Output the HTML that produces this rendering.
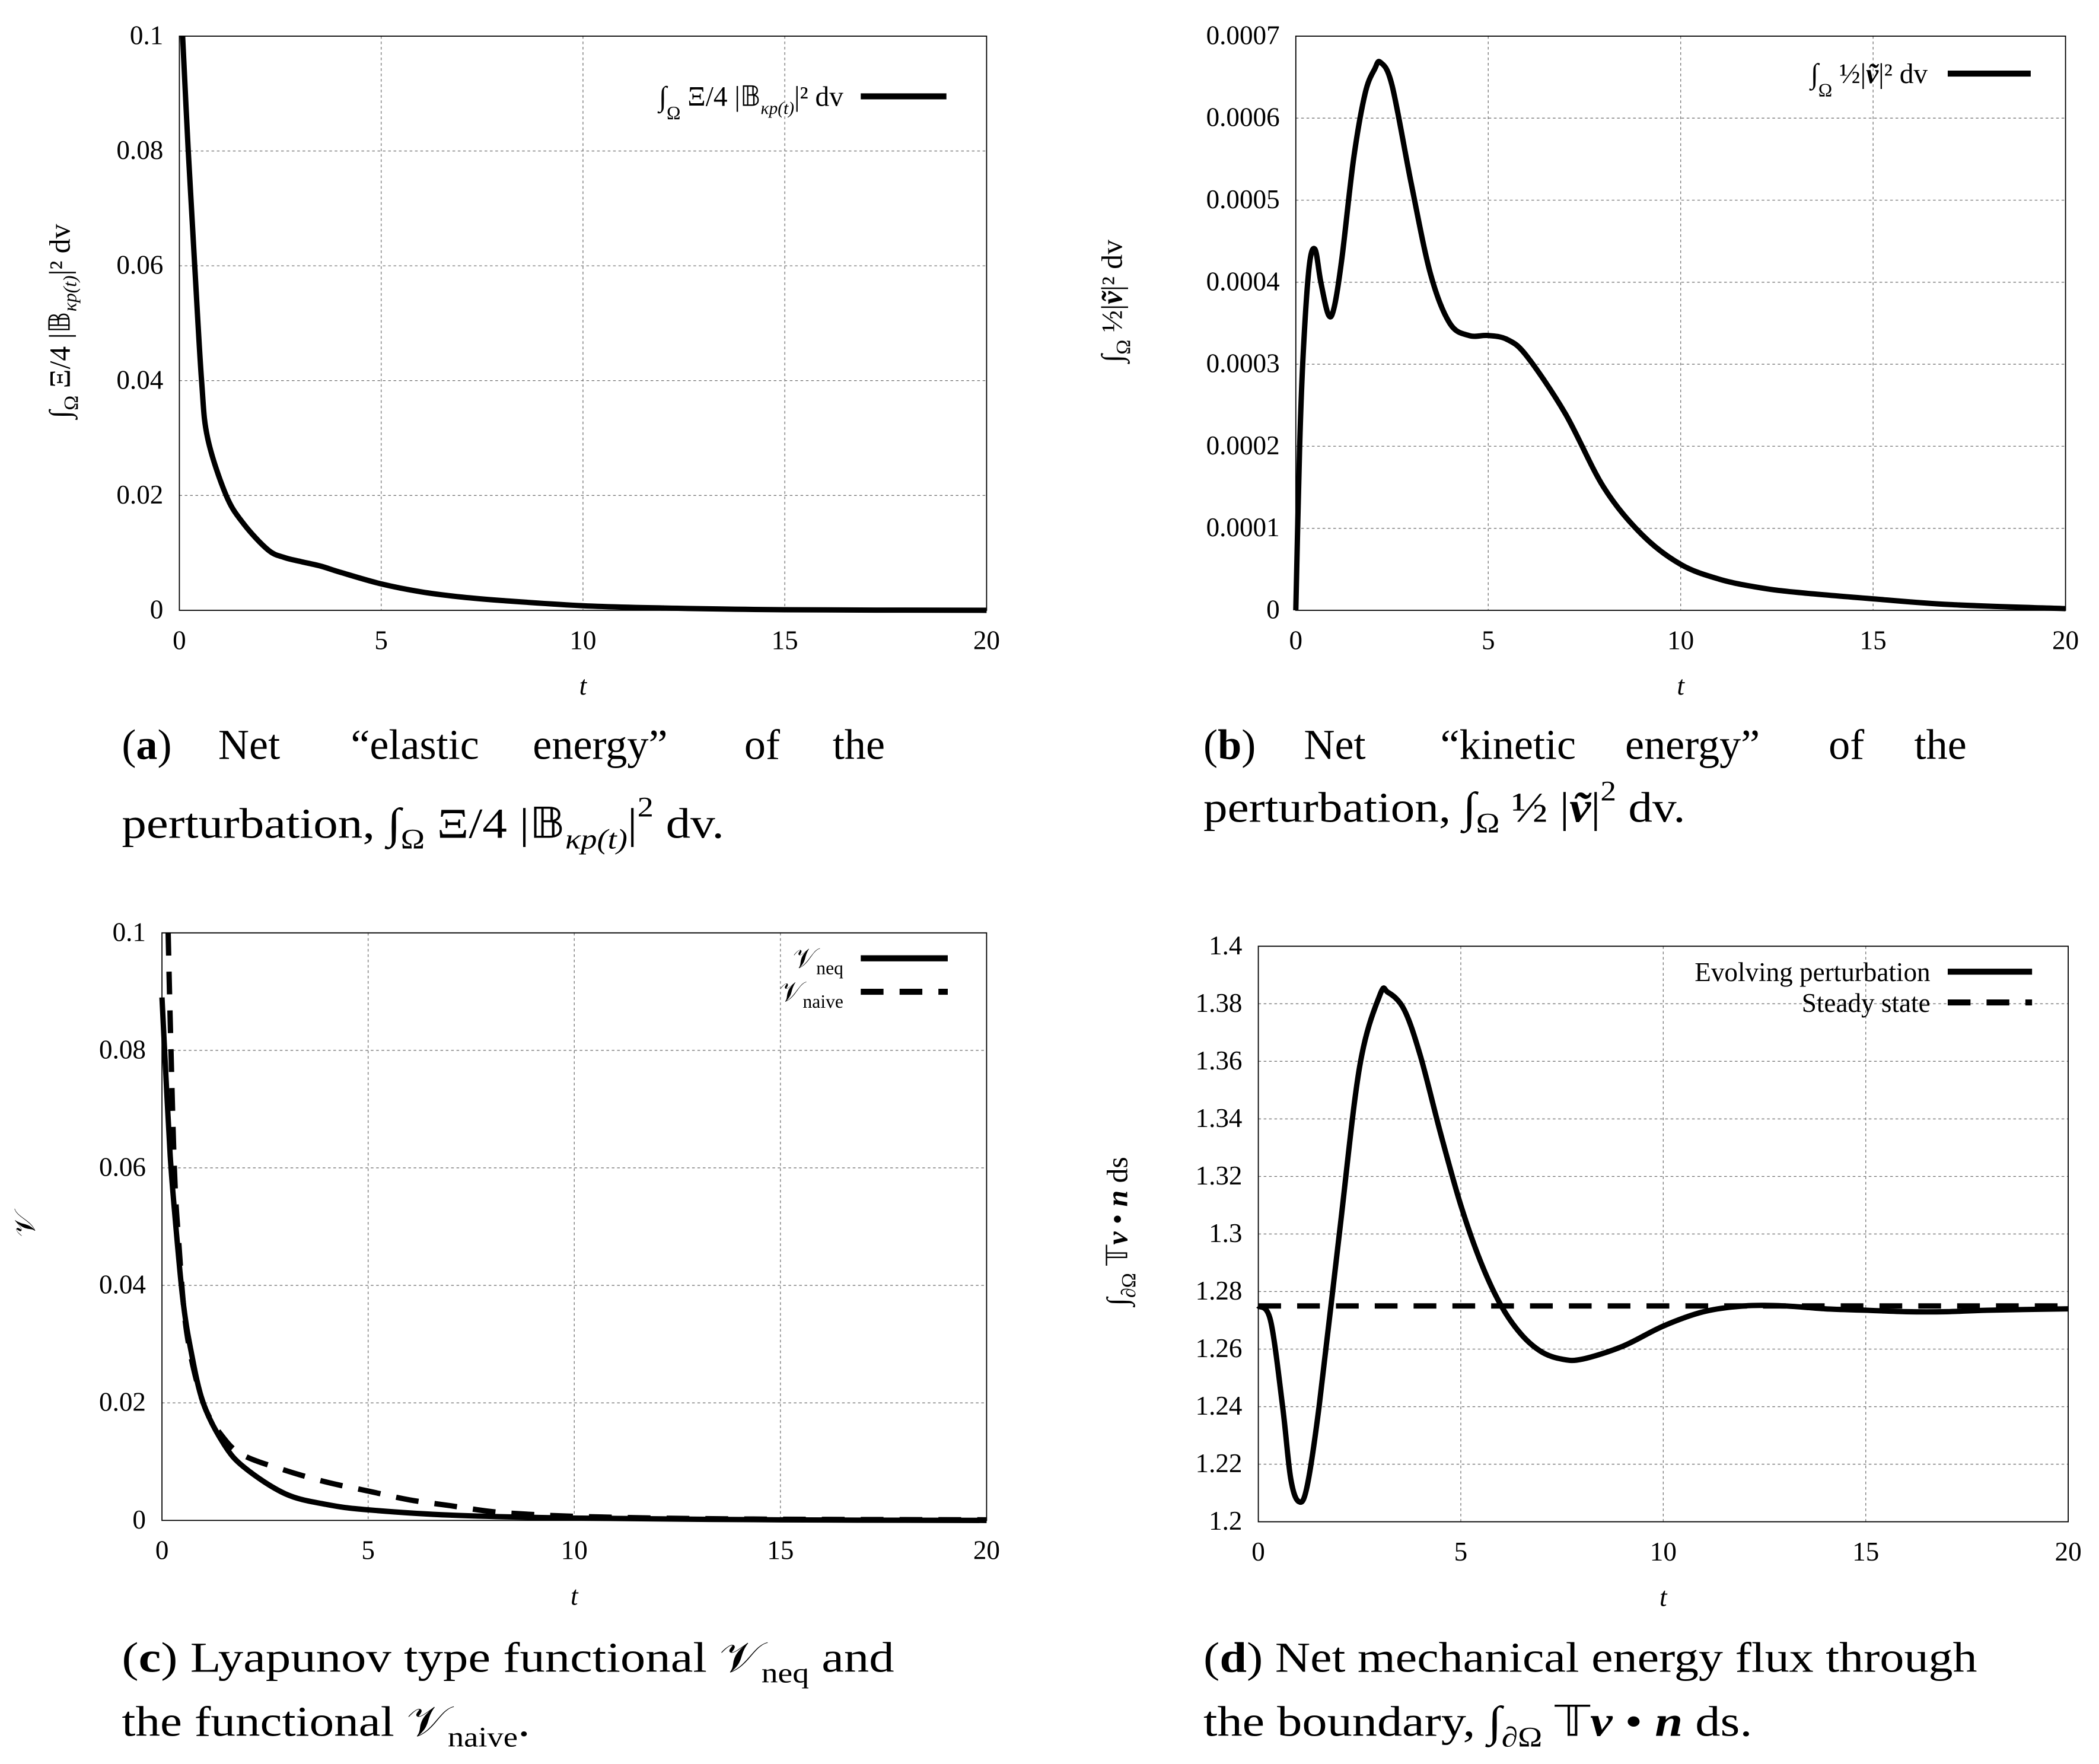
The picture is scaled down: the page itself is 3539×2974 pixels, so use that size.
<!DOCTYPE html>
<html><head><meta charset="utf-8"><style>
html,body{margin:0;padding:0;background:#fff;}
svg{display:block;}
text{font-family:"Liberation Serif",serif;fill:#000;}
</style></head><body>
<svg id="fig" width="3539" height="2974" viewBox="0 0 1568 1318" preserveAspectRatio="none" xmlns="http://www.w3.org/2000/svg">
<rect width="1568" height="1318" fill="#fff"/>
<g font-size="32">
<text x="91" y="567">(<tspan font-weight="bold">a</tspan>)</text>
<text x="163" y="567">Net</text>
<text x="262" y="567">“elastic</text>
<text x="398" y="567">energy”</text>
<text x="556" y="567">of</text>
<text x="622" y="567">the</text>
<text x="91" y="626" textLength="450" lengthAdjust="spacingAndGlyphs">perturbation, ∫<tspan font-size="21" dy="8">Ω</tspan><tspan dy="-8"> Ξ/4 |𝔹<tspan font-style="italic" font-size="21" dy="8">κp(t)</tspan><tspan dy="-8">|</tspan><tspan font-size="21" dy="-16">2</tspan><tspan dy="16"> dv.</tspan></tspan></text>
</g>
<g font-size="32">
<text x="899" y="567">(<tspan font-weight="bold">b</tspan>)</text>
<text x="974" y="567">Net</text>
<text x="1076" y="567">“kinetic</text>
<text x="1214" y="567">energy”</text>
<text x="1366" y="567">of</text>
<text x="1430" y="567">the</text>
<text x="899" y="614" textLength="360" lengthAdjust="spacingAndGlyphs">perturbation, ∫<tspan font-size="21" dy="8">Ω</tspan><tspan dy="-8"> ½ |<tspan font-style="italic" font-weight="bold">ṽ</tspan>|</tspan><tspan font-size="21" dy="-16">2</tspan><tspan dy="16"> dv.</tspan></text>
</g>
<g font-size="32">
<text x="91" y="1249" textLength="577" lengthAdjust="spacingAndGlyphs">(<tspan font-weight="bold">c</tspan>) Lyapunov type functional 𝒱<tspan font-size="21" dy="8">neq</tspan><tspan dy="-8"> and</tspan></text>
<text x="91" y="1297" textLength="305" lengthAdjust="spacingAndGlyphs">the functional 𝒱<tspan font-size="21" dy="8">naive</tspan><tspan dy="-8">.</tspan></text>
</g>
<g font-size="32">
<text x="899" y="1249" textLength="578" lengthAdjust="spacingAndGlyphs">(<tspan font-weight="bold">d</tspan>) Net mechanical energy flux through</text>
<text x="899" y="1297" textLength="410" lengthAdjust="spacingAndGlyphs">the boundary, ∫<tspan font-size="21" dy="8">∂Ω</tspan><tspan dy="-8"> 𝕋<tspan font-style="italic" font-weight="bold">v</tspan> • <tspan font-style="italic" font-weight="bold">n</tspan> ds.</tspan></text>
</g>
</svg>
<script>
// ---- data ----
const elasticT = [0.08,0.22,0.38,0.55,0.7,1.16,1.6,2.2,2.6,3,3.5,4,5,6,7,8,10,12,15,20];
const elasticV = [0.1,0.08,0.06,0.04,0.03,0.02,0.015,0.0105,0.0092,0.0085,0.0077,0.0066,0.0046,0.0032,0.0023,0.0017,0.0008,0.0004,0.0001,0];
const kineticT = [0,0.1,0.2,0.35,0.5,0.65,0.85,1.0,1.2,1.5,1.8,2.05,2.2,2.5,3,3.5,4,4.5,5,5.5,6,7,8,9,10,11,12,13,15,17,20];
const kineticV = [0,0.0002,0.00032,0.00042,0.00044,0.0004,0.00036,0.00037,0.00043,0.00055,0.00063,0.00066,0.000668,0.00064,0.00052,0.00041,0.00035,0.000335,0.000335,0.00033,0.00031,0.00024,0.00015,0.000092,0.000056,0.000038,0.000028,0.000022,0.000014,0.000007,0.000002];
const neqT = [0,0.1,0.2,0.3,0.5,0.7,1,1.5,2,3,4,5,7,10,15,20];
const neqV = [0.089,0.075,0.062,0.053,0.038,0.029,0.02,0.013,0.009,0.0045,0.0027,0.0018,0.0009,0.0004,0.0001,0];
const naiveT = [0.15,0.2,0.3,0.4,0.6,1,1.5,2,3,4,5,6,7,8,9,10,12,15,20];
const naiveV = [0.1,0.085,0.06,0.048,0.032,0.02,0.014,0.011,0.0085,0.0065,0.005,0.0035,0.0025,0.0015,0.001,0.0007,0.0004,0.0002,0.0001];
const fluxT = [0,0.3,0.6,0.8,1.0,1.2,1.5,2,2.5,3.0,3.2,3.6,4,4.5,5,5.5,6,6.5,7,7.5,8,9,10,11,12,13,14,15,16,17,18,20];
const fluxV = [1.275,1.27,1.24,1.215,1.207,1.212,1.24,1.3,1.358,1.383,1.384,1.378,1.362,1.335,1.31,1.29,1.275,1.265,1.259,1.2565,1.2565,1.261,1.268,1.273,1.275,1.275,1.274,1.2735,1.273,1.273,1.2735,1.274];
const steadyT = [0,20];
const steadyV = [1.275,1.275];
const xTicks = [0,5,10,15,20];
const ticksA = ["0","0.02","0.04","0.06","0.08","0.1"];
const ticksB = ["0","0.0001","0.0002","0.0003","0.0004","0.0005","0.0006","0.0007"];
const ticksC = ["0","0.02","0.04","0.06","0.08","0.1"];
const ticksD = ["1.2","1.22","1.24","1.26","1.28","1.3","1.32","1.34","1.36","1.38","1.4"];

const NS="http://www.w3.org/2000/svg";
const svg=document.getElementById('fig');
function mk(tag,attrs,parent){const e=document.createElementNS(NS,tag);for(const k in attrs)e.setAttribute(k,attrs[k]);(parent||svg).appendChild(e);return e;}

function panel(id,L,R,T,B,ymin,ymax,yTicks,ylab){
  const g=mk('g',{});
  
  
  const sx=t=>L+(t-0)/20*(R-L);
  const sy=v=>B-(v-ymin)/(ymax-ymin)*(B-T);
  xTicks.forEach(t=>{
    if(t>0&&t<20){const l=mk('line',{x1:sx(t),x2:sx(t),y1:T,y2:B,stroke:'#777','stroke-width':0.6,'stroke-dasharray':'2,2'},g);
    
    }
    const tx=mk('text',{x:sx(t),y:B+29,'text-anchor':'middle','font-size':20},g);tx.textContent=String(t);
    
    
  });
  yTicks.forEach(s=>{
    const v=parseFloat(s);const y=sy(v);
    if(v>ymin&&v<ymax){const l=mk('line',{x1:L,x2:R,y1:y,y2:y,stroke:'#777','stroke-width':0.6,'stroke-dasharray':'2,2'},g);
    
    }
    const tx=mk('text',{x:L-12,y:y+6,'text-anchor':'end','font-size':20},g);tx.textContent=s;
    
    
  });
  const fr=mk('rect',{x:L,y:T,width:R-L,height:B-T,fill:'none',stroke:'#000','stroke-width':0.8},g);
  
  
  const xl=mk('text',{x:(L+R)/2,y:B+63,'text-anchor':'middle','font-size':20,'font-style':'italic'},g);xl.textContent='t';
  
  
  const yl=mk('text',{x:0,y:0,'text-anchor':'middle','font-size':22,transform:`translate(${ylab.x},${ylab.cy}) rotate(-90)`},g);yl.innerHTML=ylab.text;
  
  
  const clipId='clip'+id;
  const cp=mk('clipPath',{id:clipId},g);mk('rect',{x:L-3,y:T,width:R-L+6,height:B-T+3},cp);
  return {g,sx,sy,clipId};
}
function smoothPath(pts){
  let d='M'+pts[0][0].toFixed(2)+','+pts[0][1].toFixed(2);
  for(let i=0;i<pts.length-1;i++){
    const p0=pts[Math.max(0,i-1)],p1=pts[i],p2=pts[i+1],p3=pts[Math.min(pts.length-1,i+2)];
    const c1=[p1[0]+(p2[0]-p0[0])/6,p1[1]+(p2[1]-p0[1])/6];
    const c2=[p2[0]-(p3[0]-p1[0])/6,p2[1]-(p3[1]-p1[1])/6];
    d+=` C${c1[0].toFixed(2)},${c1[1].toFixed(2)} ${c2[0].toFixed(2)},${c2[1].toFixed(2)} ${p2[0].toFixed(2)},${p2[1].toFixed(2)}`;
  }
  return d;
}
function series(p,ts,vs,name,dash){
  const pts=ts.map((t,i)=>[p.sx(t),p.sy(vs[i])]);
  const a={d:smoothPath(pts),fill:'none',stroke:'#000','stroke-width':4,'stroke-linejoin':'round','clip-path':`url(#${p.clipId})`};
  if(dash)a['stroke-dasharray']=dash;
  const e=mk('path',a,p.g);
  
  
}
function legend(p,x1,x2,y,label,tx,dash,fs){
  const g=mk('g',{},p.g);
  
  
  const a={x1,x2,y1:y,y2:y,stroke:'#000','stroke-width':4.5};
  if(dash)a['stroke-dasharray']=dash;
  mk('line',a,g);
  const t=mk('text',{x:tx,y:y+7,'text-anchor':'end','font-size':fs||20},g);t.innerHTML=label;
}
const DASH='17,12';

const pa=panel('a',134,737,27,456,0,0.1,ticksA,{x:52,cy:240,text:'∫<tspan font-size="15" dy="6">Ω</tspan><tspan dy="-6"> Ξ/4 |𝔹<tspan font-size="14" font-style="italic" dy="5">κp(t)</tspan><tspan dy="-5">|² dv</tspan></tspan>'});
series(pa,elasticT,elasticV,'elastic-energy-line');
legend(pa,643,707,72,'∫<tspan font-size="14" dy="10">Ω</tspan><tspan dy="-10"> Ξ/4 |𝔹<tspan font-size="13" font-style="italic" dy="6">κp(t)</tspan><tspan dy="-6">|²  dv</tspan></tspan>',630,null,21);

const pb=panel('b',968,1543,27,456,0,0.0007,ticksB,{x:838,cy:225,text:'∫<tspan font-size="15" dy="6">Ω</tspan><tspan dy="-6"> ½|<tspan font-weight="bold" font-style="italic">ṽ</tspan>|² dv</tspan>'});
series(pb,kineticT,kineticV,'kinetic-energy-line');
legend(pb,1455,1517,55,'∫<tspan font-size="14" dy="10">Ω</tspan><tspan dy="-10"> ½|<tspan font-weight="bold" font-style="italic">ṽ</tspan>|² dv</tspan>',1440,null,21);

const pc=panel('c',121,737,697,1136,0,0.1,ticksC,{x:26,cy:915,text:'𝒱'});
series(pc,neqT,neqV,'v-neq-line');
series(pc,naiveT,naiveV,'v-naive-line',DASH);
legend(pc,643,708,716,'𝒱<tspan font-size="14" dy="5">neq</tspan>',630,null,21);
legend(pc,643,708,741,'𝒱<tspan font-size="14" dy="5">naive</tspan>',630,DASH,21);

const pd=panel('d',940,1545,707,1137,1.2,1.4,ticksD,{x:842,cy:920,text:'∫<tspan font-size="15" dy="6">∂Ω</tspan><tspan dy="-6"> 𝕋<tspan font-weight="bold" font-style="italic">v</tspan> • <tspan font-weight="bold" font-style="italic">n</tspan> ds</tspan>'});
series(pd,steadyT,steadyV,'steady-state-line',DASH);
series(pd,fluxT,fluxV,'evolving-perturbation-line');
legend(pd,1455,1518,726,'Evolving perturbation',1442,null,20);
legend(pd,1455,1518,749,'Steady state',1442,DASH,20);
</script>
</body></html>
